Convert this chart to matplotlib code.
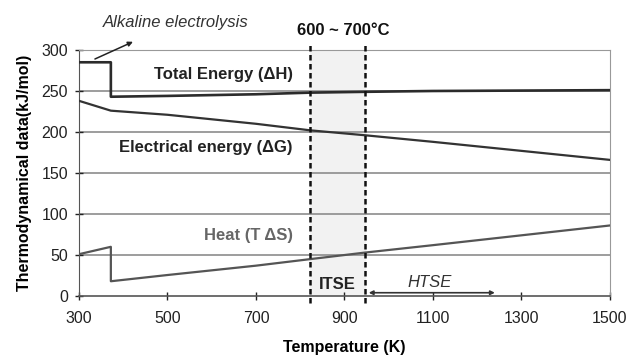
import matplotlib
matplotlib.use("Agg")
import matplotlib.pyplot as plt

plt.rcParams["font.family"] = ["Liberation Sans", "DejaVu Sans"]

# values
temp = [300, 372, 372, 500, 700, 823, 947, 1100, 1300, 1500]
total_h = [285, 285, 243, 244, 246, 248, 249, 250, 250.5, 251]
temp_g = [300, 372, 500, 700, 823, 947, 1100, 1300, 1500]
electrical_g = [238, 226, 221, 210, 202, 196, 188, 177, 166]
heat_s = [51, 60, 18, 25.6, 37, 45, 53, 62, 74, 86]

itse_lo, itse_hi = 823, 947
htse_start, htse_end = 955, 1240

fig = plt.figure(figsize=(6.3, 3.56), dpi=100)
ax = fig.add_axes([0.1254, 0.1685, 0.8426, 0.6911])

ax.axvspan(itse_lo, itse_hi, color="#f2f2f2", zorder=0)
for y in range(50, 301, 50):
    ax.axhline(y, color="#8c8c8c", lw=1.2, zorder=1)

ax.plot(temp, total_h, color="#2b2b2b", lw=1.9, zorder=3)
ax.plot(temp_g, electrical_g, color="#333333", lw=1.6, zorder=3)
ax.plot(temp, heat_s, color="#555555", lw=1.6, zorder=3)

for x in (itse_lo, itse_hi):
    ax.axvline(x, ymin=-0.03, ymax=1.02, color="#111111", lw=1.8,
               ls=(0, (2.2, 1.4)), clip_on=False, zorder=4)

ax.set_xlim(300, 1500)
ax.set_ylim(0, 300)
ax.set_xticks(range(300, 1501, 200))
ax.set_yticks(range(0, 301, 50))
ax.tick_params(axis="both", labelsize=11.5, colors="#222222", direction="inout",
               length=6, width=1, pad=5)
ax.tick_params(axis="x", pad=8)
for s in ax.spines.values():
    s.set_color("#999999")
ax.spines["left"].set_color("#555555")
ax.spines["bottom"].set_color("#555555")
ax.spines["bottom"].set_linewidth(1.2)

ax.set_xlabel("Temperature (K)", fontsize=11.5, fontweight="bold", labelpad=10)
ax.set_ylabel("Thermodynamical data(kJ/mol)", fontsize=11.5, fontweight="bold",
              labelpad=7)

ax.text(783, 269.5, "Total Energy (\u0394H)", ha="right", va="center",
        fontsize=12, fontweight="bold", color="#222222")
ax.text(783, 181.5, "Electrical energy (\u0394G)", ha="right", va="center",
        fontsize=12, fontweight="bold", color="#222222")
ax.text(783, 74, "Heat (T \u0394S)", ha="right", va="center",
        fontsize=12, fontweight="bold", color="#666666")
ax.text(885, 13.5, "ITSE", ha="center", va="center", fontsize=12,
        fontweight="bold", color="#222222")
ax.text(1093, 16, "HTSE", ha="center", va="center", fontsize=12,
        fontstyle="italic", color="#333333")
ax.annotate("", xy=(htse_end, 4), xytext=(htse_start, 4),
            arrowprops=dict(arrowstyle="<|-|>", color="#333333", lw=1.2,
                            mutation_scale=6, shrinkA=0, shrinkB=0))
ax.text(793, 324, "600 ~ 700\u00b0C", ha="left", va="center",
        fontsize=12, fontweight="bold", color="#111111", clip_on=False)
ax.text(519, 333, "Alkaline electrolysis", ha="center", va="center",
        fontsize=12, fontstyle="italic", color="#333333", clip_on=False)
ax.annotate("", xy=(422, 310), xytext=(336, 289),
            arrowprops=dict(arrowstyle="-|>", color="#222222", lw=1.1,
                            mutation_scale=7, shrinkA=0, shrinkB=0),
            annotation_clip=False)

fig.savefig("out.png", dpi=100)
